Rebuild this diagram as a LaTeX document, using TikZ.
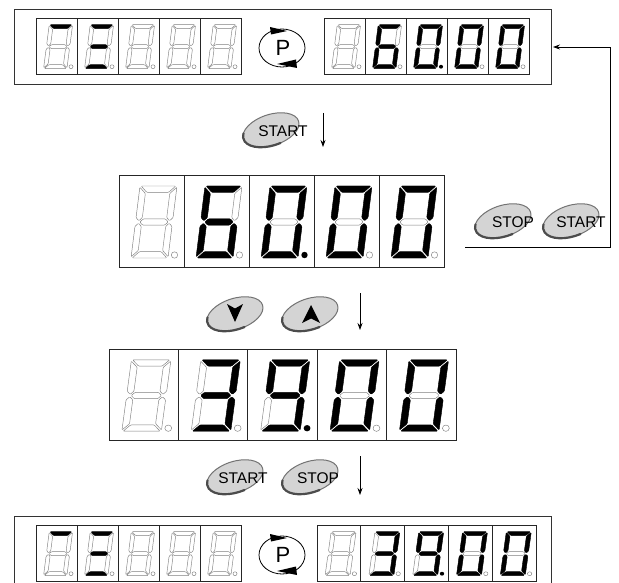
\documentclass[tikz,border=0pt]{standalone}
\usepackage{fontspec}
\setmainfont{Liberation Sans}
\usetikzlibrary{arrows.meta}
\tikzset{
 segoff/.style={draw=black!50, line width=0.45pt, fill=white, rounded corners=0.8pt},
 segon/.style={draw=black, fill=black, line width=0.3pt, rounded corners=0.8pt},
 cellline/.style={draw=black!85, line width=0.8pt},
 dot0/.style={draw=black!50, line width=0.45pt, fill=white},
 dot1/.style={fill=black},
 frameline/.style={draw=black!80, line width=0.9pt},
 arr/.style={draw=black, line width=0.8pt, -{Stealth[length=7pt,width=5pt]}},
 btntext/.style={font=\fontsize{15.5}{16}\selectfont, inner sep=0pt},
 ptext/.style={font=\fontsize{22}{22}\selectfont, inner sep=0pt},
}
\newcommand\sEga[1]{\path[#1] (1.2,72) -- (35.8,72) -- (29.5,65.7) -- (7.5,65.7) -- cycle;}
\newcommand\sEgb[1]{\path[#1] (37,70.8) -- (30.7,64.5) -- (30.7,40.4) -- (33.85,37.2) -- (37,40.4) -- cycle;}
\newcommand\sEgc[1]{\path[#1] (37,1.2) -- (30.7,7.5) -- (30.7,31.6) -- (33.85,34.8) -- (37,31.6) -- cycle;}
\newcommand\sEgd[1]{\path[#1] (1.2,0) -- (35.8,0) -- (29.5,6.3) -- (7.5,6.3) -- cycle;}
\newcommand\sEge[1]{\path[#1] (0,1.2) -- (6.3,7.5) -- (6.3,31.6) -- (3.15,34.8) -- (0,31.6) -- cycle;}
\newcommand\sEgf[1]{\path[#1] (0,70.8) -- (6.3,64.5) -- (6.3,40.4) -- (3.15,37.2) -- (0,40.4) -- cycle;}
\newcommand\sEgg[1]{\path[#1] (4.35,36) -- (7.5,39.15) -- (29.5,39.15) -- (32.65,36) -- (29.5,32.85) -- (7.5,32.85) -- cycle;}
\newcommand\sEgx[1]{}
% x y xscale yscale segments dot
\newcommand\dcell[6]{%
 \begin{scope}[shift={(#1,#2)}, xscale=#3, yscale=#4]
  \path[cellline] (0,0) rectangle (65,92);
  \begin{scope}[shift={(12,83)}, yscale=-1, xslant=-0.125]
   \foreach \s in {a,b,c,d,e,f,g} {\csname sEg\s\endcsname{segoff}}
   \foreach \s in {#5} {\csname sEg\s\endcsname{segon}}
  \end{scope}
  \path[dot#6] (55.5,80) circle[radius=3.2];
 \end{scope}}
\newcommand\btn[3]{%
 \begin{scope}[shift={(#1,#2)}, rotate=18]
  \path[draw=black!55, line width=1pt, fill=black!17] (0,0) ellipse[x radius=29, y radius=15.5];
  \draw[black!70, line width=2.2pt, line cap=round] (80:29 and 15.5) arc[start angle=80, end angle=200, x radius=29, y radius=15.5];
 \end{scope}
 \coordinate (#3) at (#1,#2);}
\newcommand\psym[3]{%
 \draw[line width=0.8pt] (#1,#2) ellipse[x radius=23, y radius=19];
 \fill (#1-12,#2-21) -- (#1+5,#2-17) -- (#1-11,#2-13.5) -- cycle;
 \fill (#1-5,#2+16) -- (#1+14,#2+11.5) -- (#1+15,#2+20) -- cycle;
 \node[ptext] (#3) at (#1+1,#2) {P};}
\begin{document}
\begin{tikzpicture}[x=1pt,y=-1pt]
\useasboundingbox (0,0) rectangle (619,583);
\clip (0,0) rectangle (619,583);
\fill[white] (0,0) rectangle (619,583);
% top display
\path[frameline] (14,9) rectangle (551,84);
\dcell{36}{18}{0.631}{0.609}{a}{0}
\dcell{77}{18}{0.631}{0.609}{a,g,d}{0}
\dcell{118}{18}{0.631}{0.609}{x}{0}
\dcell{159}{18}{0.631}{0.609}{x}{0}
\dcell{200}{18}{0.631}{0.609}{x}{0}
\psym{282}{48}{ptop}
\dcell{324}{18}{0.631}{0.609}{x}{0}
\dcell{365}{18}{0.631}{0.609}{a,c,d,e,f,g}{0}
\dcell{406}{18}{0.631}{0.609}{a,b,c,d,e,f}{1}
\dcell{447}{18}{0.631}{0.609}{a,b,c,d,e,f}{0}
\dcell{488}{18}{0.631}{0.609}{a,b,c,d,e,f}{0}
% big display 1
\dcell{119}{175}{1}{1}{x}{0}
\dcell{184}{175}{1}{1}{a,c,d,e,f,g}{0}
\dcell{249}{175}{1}{1}{a,b,c,d,e,f}{1}
\dcell{314}{175}{1}{1}{a,b,c,d,e,f}{0}
\dcell{379}{175}{1}{1}{a,b,c,d,e,f}{0}
% big display 2
\dcell{109}{349}{1.068}{0.99}{x}{0}
\dcell{178.4}{349}{1.068}{0.99}{a,b,c,d,g}{0}
\dcell{247.8}{349}{1.068}{0.99}{a,b,c,d,f,g}{1}
\dcell{317.2}{349}{1.068}{0.99}{a,b,c,d,e,f}{0}
\dcell{386.6}{349}{1.068}{0.99}{a,b,c,d,e,f}{0}
% bottom display
\path[frameline] (14,516) rectangle (551,595);
\dcell{36}{525}{0.631}{0.609}{a}{0}
\dcell{77}{525}{0.631}{0.609}{a,g,d}{0}
\dcell{118}{525}{0.631}{0.609}{x}{0}
\dcell{159}{525}{0.631}{0.609}{x}{0}
\dcell{200}{525}{0.631}{0.609}{x}{0}
\psym{282}{555}{pbot}
\dcell{317}{525}{0.674}{0.609}{x}{0}
\dcell{360.8}{525}{0.674}{0.609}{a,b,c,d,g}{0}
\dcell{404.6}{525}{0.674}{0.609}{a,b,c,d,f,g}{1}
\dcell{448.4}{525}{0.674}{0.609}{a,b,c,d,e,f}{0}
\dcell{492.2}{525}{0.674}{0.609}{a,b,c,d,e,f}{0}
% arrows
\coordinate (a1s) at (323,113); \coordinate (a1e) at (323,147);
\coordinate (a2s) at (360,293); \coordinate (a2e) at (360,330);
\coordinate (a3s) at (360,456); \coordinate (a3e) at (360,495);
\draw[arr] (a1s) -- (a1e);
\draw[arr] (a2s) -- (a2e);
\draw[arr] (a3s) -- (a3e);
\coordinate (fb1) at (465,247); \coordinate (fb2) at (610,247);
\coordinate (fb3) at (610,47); \coordinate (fb4) at (553,47);
\draw[arr] (fb1) -- (fb2) -- (fb3) -- (fb4);
% buttons
\btn{271}{130}{b1}
\node[btntext] (t1) at (283,131) {START};
\btn{503}{221}{b2}
\node[btntext] (t2) at (513,222) {STOP};
\btn{571}{221}{b3}
\node[btntext] (t3) at (581,222) {START};
\btn{235}{314}{b4}
\fill (227,304) -- (235,308.5) -- (243,304) -- (235,322) -- cycle;
\btn{310}{314}{b5}
\fill (302,323) -- (311,318.5) -- (320,323) -- (311,305) -- cycle;
\btn{235}{477}{b6}
\node[btntext] (t6) at (243,478) {START};
\btn{310}{477}{b7}
\node[btntext] (t7) at (318,478) {STOP};
\end{tikzpicture}
\end{document}
